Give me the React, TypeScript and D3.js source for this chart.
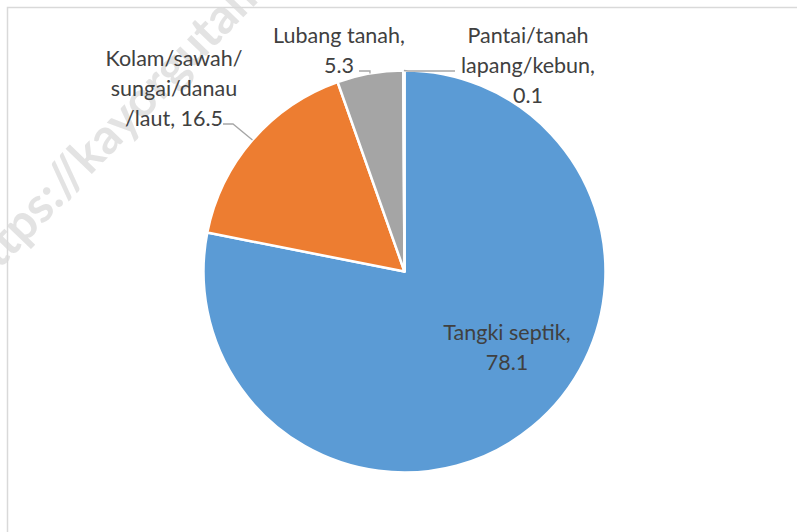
import React, { useEffect, useRef } from 'react';
import * as d3 from 'd3';

// Data: place of final disposal of faeces (%)
const categories = ['Tangki septik', 'Kolam/sawah/ sungai/danau /laut', 'Lubang tanah', 'Pantai/tanah lapang/kebun'];
const values = [78.1, 16.5, 5.3, 0.1];
const labelLines = [
  ['Tangki septik,', '78.1'],
  ['Kolam/sawah/', 'sungai/danau', '/laut, 16.5'],
  ['Lubang tanah,', '5.3'],
  ['Pantai/tanah', 'lapang/kebun,', '0.1'],
];
const colors = ['#5B9BD5', '#ED7D31', '#A5A5A5', '#FFC000'];

const width = 797;
const height = 532;
const cx = 404.5;
const cy = 271.5;
const radius = 201;

// label layout (centre x, y of the first line) and leader elbow
const labelPos = [
  { x: 507, y: 332, leader: null },
  { x: 174, y: 58, leader: [223, 124, 233] },
  { x: 339, y: 35, leader: [359, 71, 370] },
  { x: 528, y: 35, leader: [455, 71, 408] },
];

const App = () => {
  const svgRef = useRef<SVGSVGElement>(null);

  useEffect(() => {
    const svg = d3.select(svgRef.current);
    svg.selectAll('*').remove();

    // chart area border
    svg
      .append('rect')
      .attr('x', 7.5)
      .attr('y', 7.5)
      .attr('width', 820)
      .attr('height', 560)
      .attr('fill', 'white')
      .attr('stroke', '#d9d9d9')
      .attr('stroke-width', 1.5);

    const data = categories.map((c, i) => ({ label: c, value: values[i], color: colors[i], i }));

    const pie = d3
      .pie<any>()
      .value((d) => d.value)
      .sort(null);
    const arcGen = d3.arc<any>().innerRadius(0).outerRadius(radius);

    const g = svg.append('g').attr('transform', `translate(${cx}, ${cy})`);
    const arcs = pie(data);

    g.selectAll('path')
      .data(arcs)
      .enter()
      .append('path')
      .attr('d', arcGen)
      .attr('fill', (d) => d.data.color)
      .attr('stroke', 'white')
      .attr('stroke-width', 2.5)
      .attr('stroke-linejoin', 'round');

    // leader lines
    arcs.forEach((d, i) => {
      const lp = labelPos[i];
      if (!lp.leader) return;
      const mid = (d.startAngle + d.endAngle) / 2;
      const ex = cx + radius * Math.sin(mid);
      const ey = cy - radius * Math.cos(mid);
      const [x0, y0, x1] = lp.leader;
      svg
        .append('path')
        .attr('d', `M${x0},${y0} L${x1},${y0} L${ex},${ey}`)
        .attr('fill', 'none')
        .attr('stroke', '#a6a6a6')
        .attr('stroke-width', 1.3);
    });

    // faint watermark (behind the labels)
    svg
      .append('text')
      .attr('transform', 'translate(-20, 290) rotate(-46)')
      .attr('font-family', 'Lato, sans-serif')
      .attr('font-weight', 'bold')
      .attr('font-size', 49)
      .attr('fill', '#d9d9d9')
      .attr('fill-opacity', 0.75)
      .text('https://kayorgutama.com');

    // labels
    labelLines.forEach((lines, i) => {
      const lp = labelPos[i];
      const t = svg
        .append('text')
        .attr('text-anchor', 'middle')
        .attr('font-family', 'Lato, "Open Sans", sans-serif')
        .attr('font-size', 21.5)
        .attr('fill', '#404040');
      lines.forEach((ln, k) => {
        t.append('tspan')
          .attr('x', lp.x)
          .attr('y', lp.y + k * 30)
          .attr('dy', '0.35em')
          .text(ln);
      });
    });
  }, []);

  return (
    <svg
      ref={svgRef}
      width={width}
      height={height}
      style={{ position: 'absolute', left: 0, top: 0, background: 'white' }}
    />
  );
};

export default App;
